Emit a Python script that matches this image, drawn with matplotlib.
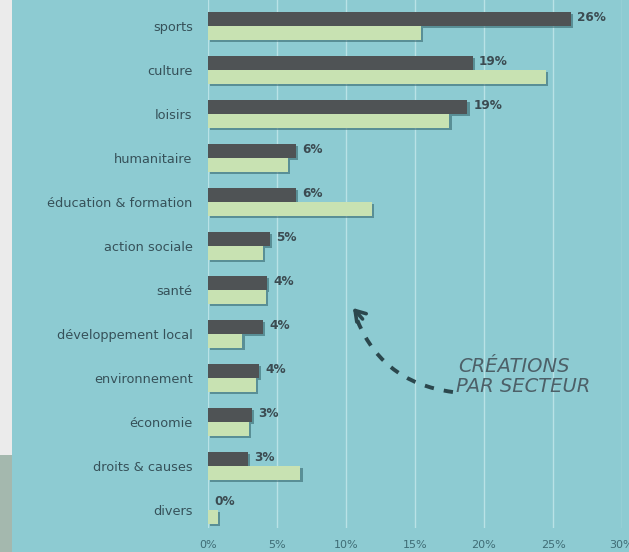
import matplotlib
matplotlib.use("Agg")
import matplotlib.pyplot as plt
import matplotlib.patheffects as pe
from matplotlib.patches import Rectangle

categories = ["sports", "culture", "loisirs", "humanitaire", "éducation & formation",
              "action sociale", "santé", "développement local", "environnement",
              "économie", "droits & causes", "divers"]
creations = [26.3, 19.2, 18.8, 6.4, 6.4, 4.5, 4.3, 4.0, 3.7, 3.2, 2.9, 0.0]
creation_labels = ["26%", "19%", "19%", "6%", "6%", "5%", "4%", "4%", "4%", "3%", "3%", "0%"]
ensemble = [15.4, 24.5, 17.5, 5.8, 11.9, 4.0, 4.2, 2.5, 3.5, 3.0, 6.7, 0.75]
xticks = [0, 5, 10, 15, 20, 25, 30]
xtick_labels = ["0%", "5%", "10%", "15%", "20%", "25%", "30%"]

W, H = 629, 552
TEAL = "#8dcbd2"
DARK = "#4f5355"
LIGHT = "#c8e2b2"
TXT = "#365159"

fig = plt.figure(figsize=(W / 100, H / 100), dpi=100, facecolor=TEAL)
# left strip
fig.patches.append(Rectangle((0, (H - 455) / H), 12 / W, 455 / H, transform=fig.transFigure,
                             facecolor="#ebebeb", edgecolor="none", zorder=0))
fig.patches.append(Rectangle((0, 0), 12 / W, (H - 455) / H, transform=fig.transFigure,
                             facecolor="#a4b8ae", edgecolor="none", zorder=0))

left = 208 / W
right = 622 / W
top_px, bot_px = 0, 528
ax = fig.add_axes([left, (H - bot_px) / H, right - left, (bot_px - top_px) / H])
ax.set_facecolor("none")

ax.set_xlim(0, 30)
ax.set_ylim(11.41, -0.59)

ys = list(range(len(categories)))
h = 0.318
off = 0.159
shadow = [pe.SimplePatchShadow(offset=(1.5, -1.5), shadow_rgbFace="#2f5e66", alpha=0.55), pe.Normal()]

b1 = ax.barh([y - off for y in ys], creations, height=h, color=DARK, zorder=3)
b2 = ax.barh([y + off for y in ys], ensemble, height=h, color=LIGHT, zorder=3)
for b in list(b1) + list(b2):
    b.set_path_effects(shadow)

for y, v, lab in zip(ys, creations, creation_labels):
    ax.text(v + 0.45, y - off - 0.03, lab, ha="left", va="center", fontsize=8.7,
            fontweight="bold", color="#3b4b51", zorder=4)

for x in xticks:
    ax.axvline(x, color="#b9e2e6", lw=1.0, zorder=1)

ax.set_xticks(xticks)
ax.set_xticklabels(xtick_labels, fontsize=8, color="#3f6c75")
ax.set_yticks(ys)
ax.set_yticklabels(categories, fontsize=9.3, color=TXT)
ax.tick_params(axis="x", length=0, pad=9)
ax.tick_params(axis="y", length=0, pad=11)
for s in ax.spines.values():
    s.set_visible(False)

# annotation: dashed curve + solid chevron head
ax.annotate("", xy=(10.5, 6.41), xytext=(17.75, 8.32),
            arrowprops=dict(arrowstyle="-", color="#2b474d",
                            lw=2.8, linestyle=(0, (2.4, 2.6)), capstyle="butt",
                            connectionstyle="arc3,rad=-0.32",
                            shrinkA=0, shrinkB=3), zorder=5)
ax.annotate("", xy=(10.5, 6.41), xytext=(11.2, 6.66),
            arrowprops=dict(arrowstyle="->,head_length=0.7,head_width=0.45", color="#2b474d",
                            lw=2.6, shrinkA=0, shrinkB=0), zorder=5)
ax.text(18.1, 7.75, "CRÉATIONS", fontsize=14, fontstyle="italic", color="#4d6068",
        ha="left", va="center", zorder=5)
ax.text(18.0, 8.2, "PAR SECTEUR", fontsize=14, fontstyle="italic", color="#4d6068",
        ha="left", va="center", zorder=5)

fig.savefig("out.png", dpi=100, facecolor=TEAL)
